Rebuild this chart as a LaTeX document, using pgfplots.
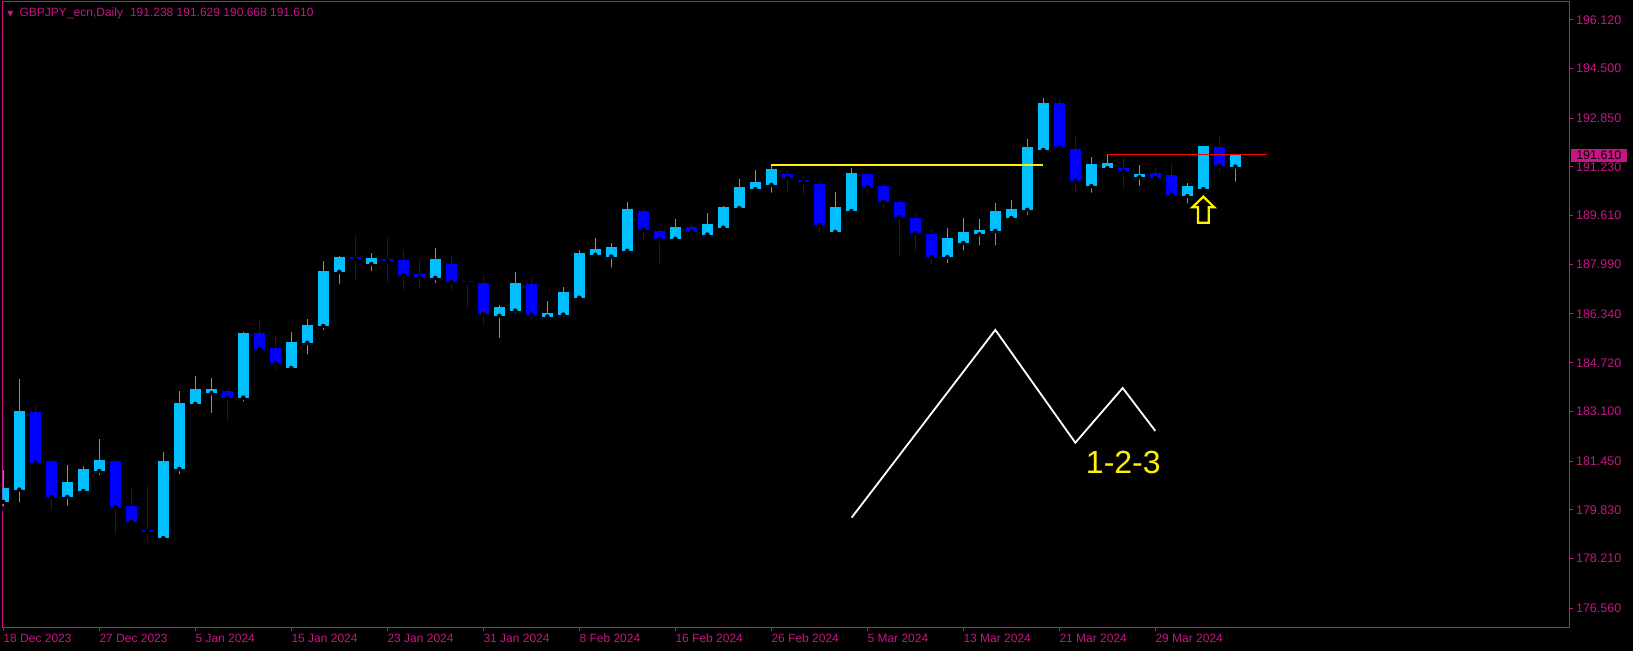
\documentclass[border=0pt]{standalone}
\usepackage{pgfplots}
\pgfplotsset{compat=1.18}
\usepackage{pgfplotstable}
\usepackage{fontspec}
\setmainfont{Liberation Sans}
\newfontfamily\dejavu{DejaVu Sans}

\definecolor{mtmag}{HTML}{C71585}
\definecolor{cBull}{HTML}{00BFFF}
\definecolor{cBear}{HTML}{0000FF}

% daily bars: index, open, high, low, close
\pgfplotstableread{
i o h l c
0 180.09 181.15 179.87 180.555
1 180.50 184.18 180.00 183.115
4 180.26 181.32 179.90 180.75
5 180.455 181.29 180.42 181.19
6 181.12 182.19 180.92 181.49
10 178.89 181.75 178.86 181.45
11 181.19 183.78 180.95 183.38
12 183.35 184.28 183.21 183.85
13 183.71 184.21 182.98 183.85
15 183.56 185.74 183.36 185.71
18 184.545 185.74 184.51 185.41
19 185.38 186.17 184.92 185.97
20 185.94 188.10 185.74 187.77
21 187.74 188.27 187.27 188.23
23 188.00 188.37 187.70 188.20
27 187.54 188.53 187.30 188.17
31 186.28 186.64 185.475 186.57
32 186.45 187.74 186.28 187.37
34 186.25 186.77 186.15 186.37
35 186.32 187.24 186.15 187.07
36 186.88 188.47 186.82 188.37
37 188.31 188.87 188.18 188.50
38 188.25 188.70 187.81 188.57
39 188.44 190.06 188.41 189.83
42 188.84 189.50 188.71 189.23
44 188.98 189.70 188.91 189.33
45 189.21 189.93 189.11 189.90
46 189.86 190.83 189.80 190.56
47 190.49 191.13 190.37 190.73
48 190.63 191.29 190.30 191.16
52 189.07 190.40 189.07 189.90
53 189.76 191.19 189.73 191.03
59 188.23 189.20 187.95 188.87
60 188.70 189.53 188.38 189.07
61 188.99 189.50 188.55 189.13
62 189.10 190.03 188.55 189.76
63 189.53 190.13 189.50 189.83
64 189.80 192.16 189.56 191.89
65 191.79 193.52 191.76 193.35
68 190.59 191.56 190.30 191.33
69 191.19 191.62 191.06 191.36
71 190.89 191.29 190.53 190.99
74 190.26 190.69 189.94 190.59
75 190.49 191.92 190.36 191.92
77 191.238 191.629 190.668 191.610
}\bulltab

\pgfplotstableread{
i o h l c
2 183.08 183.31 181.23 181.39
3 181.45 181.45 179.74 180.26
7 181.45 181.45 178.96 179.92
8 179.96 180.52 179.26 179.43
9 179.16 180.63 178.69 179.09
14 183.78 183.88 182.72 183.55
16 185.71 186.14 185.02 185.18
17 185.21 185.64 184.42 184.71
22 188.23 188.93 187.37 188.17
24 188.17 188.90 187.30 188.10
25 188.14 188.47 187.07 187.64
26 187.67 188.17 187.10 187.57
28 188.00 188.27 187.07 187.40
29 187.44 187.50 186.48 187.39
30 187.37 187.60 185.92 186.35
33 187.34 187.57 186.05 186.32
40 189.76 189.86 188.71 189.14
41 189.10 189.20 187.91 188.83
43 189.23 189.36 188.88 189.08
49 190.99 191.13 190.33 190.87
50 190.795 190.93 190.23 190.73
51 190.66 190.76 189.00 189.30
54 190.99 191.03 190.26 190.56
55 190.59 190.66 189.80 190.07
56 190.06 190.13 188.17 189.56
57 189.53 189.70 188.35 189.03
58 189.00 189.14 187.91 188.23
66 193.35 193.49 191.79 191.89
67 191.82 192.22 190.33 190.76
70 191.19 191.53 190.46 191.09
72 191.03 191.19 190.73 190.86
73 190.96 191.33 190.13 190.30
76 191.89 192.22 190.96 191.26
}\beartab

\begin{document}
\begin{tikzpicture}
\fill[black] (0,0) rectangle (1633pt,651pt);
\useasboundingbox (0,0) rectangle (1633pt,651pt);
\begin{axis}[
  at={(2.5pt,23.7pt)}, anchor=south west,
  scale only axis, width=1566.8pt, height=625.3pt,
  xmin=-0.05, xmax=97.875, ymin=175.924, ymax=196.711,
  clip mode=individual,
  axis line style={mtmag, line width=1pt},
  tick style={mtmag, line width=1pt},
  tick align=outside, major tick length=3.5pt,
  xtick pos=left, ytick pos=right,
  xtick={0,6,...,72},
  xticklabels={18 Dec 2023,27 Dec 2023,5 Jan 2024,15 Jan 2024,23 Jan 2024,31 Jan 2024,8 Feb 2024,16 Feb 2024,26 Feb 2024,5 Mar 2024,13 Mar 2024,21 Mar 2024,29 Mar 2024},
  xticklabel style={anchor=north west, inner sep=0pt, yshift=-3pt, text=mtmag, font=\fontsize{12}{12}\selectfont},
  ytick={176.56,178.21,179.83,181.45,183.10,184.72,186.34,187.99,189.61,191.23,192.85,194.50,196.12},
  yticklabels={176.560,178.210,179.830,181.450,183.100,184.720,186.340,187.990,189.610,191.230,192.850,194.500,196.120},
  yticklabel style={anchor=west, inner sep=0pt, xshift=3pt, text=mtmag, font=\fontsize{12.5}{12.5}\selectfont},
  scaled y ticks=false,
]
% wicks
\addplot[only marks, mark=none, forget plot, error bars/.cd, y dir=plus, y explicit, error mark=none,
  error bar style={draw=cBull, line width=1pt}]
  table[x=i, y=l, y error plus expr=\thisrow{h}-\thisrow{l}] {\bulltab};
\addplot[only marks, mark=none, forget plot, error bars/.cd, y dir=plus, y explicit, error mark=none,
  error bar style={draw=cBear, line width=1pt}]
  table[x=i, y=l, y error plus expr=\thisrow{h}-\thisrow{l}] {\beartab};
% bodies
\addplot[only marks, mark=none, forget plot, error bars/.cd, y dir=plus, y explicit, error mark=none,
  error bar style={draw=cBull, line width=10.7pt}]
  table[x=i, y=o, y error plus expr=\thisrow{c}-\thisrow{o}] {\bulltab};
\addplot[only marks, mark=none, forget plot, error bars/.cd, y dir=plus, y explicit, error mark=none,
  error bar style={draw=cBear, line width=10.7pt}]
  table[x=i, y=c, y error plus expr=\thisrow{o}-\thisrow{c}] {\beartab};
% levels
\addplot[yellow, line width=2pt] coordinates {(48,191.30) (65,191.30)};
\addplot[red, line width=1pt] coordinates {(69,191.65) (79,191.65)};
% 1-2-3 pattern
\addplot[white, line width=1.8pt, line join=miter] coordinates {
  (53.02,179.57) (62.0,185.81) (67.0,182.06) (69.96,183.88) (72.0,182.45)};
% arrow
\addplot[yellow, line width=2.2pt, line join=miter] coordinates {
  (75,190.24) (75.675,189.89) (75.333,189.89) (75.333,189.375)
  (74.667,189.375) (74.667,189.89) (74.325,189.89)} -- cycle;
\node[text=yellow, font=\fontsize{32}{32}\selectfont] at (axis cs:70.0,181.41) {1-2-3};
\node[anchor=base west, inner sep=0pt, text=mtmag, font=\fontsize{12}{12}\selectfont,
  xshift=4.8pt, yshift=-14.7pt] at (rel axis cs:0,1)
  {{\dejavu\fontsize{8}{8}\selectfont ▼}\hspace{6pt}GBPJPY\_ecn,Daily\hspace{7pt}191.238 191.629 190.668 191.610};
\node[anchor=west, fill=mtmag, text=black, inner xsep=0pt, inner ysep=0pt,
  minimum height=13.3pt, minimum width=56pt, align=left, xshift=1.7pt,
  font=\fontsize{12.5}{12.5}\selectfont] at (axis cs:97.875,191.61)
  {\hspace{5pt}191.610\hspace{6pt}};
\end{axis}
\end{tikzpicture}
\end{document}
